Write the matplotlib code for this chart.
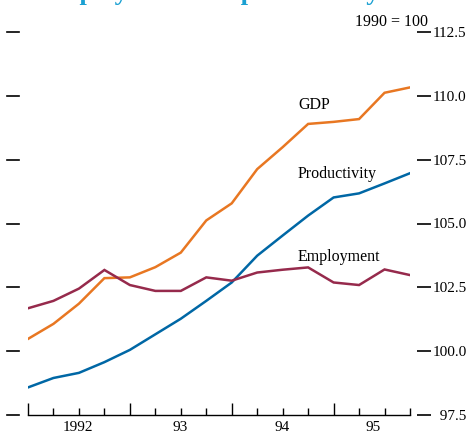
import numpy as np
import matplotlib
matplotlib.use('Agg')
import matplotlib.pyplot as plt
import matplotlib.transforms as mtransforms

# quarterly index, 1990 = 100 (1992 Q1 .. 1995 Q4)
quarters = ['1992Q1', '1992Q2', '1992Q3', '1992Q4',
            '1993Q1', '1993Q2', '1993Q3', '1993Q4',
            '1994Q1', '1994Q2', '1994Q3', '1994Q4',
            '1995Q1', '1995Q2', '1995Q3', '1995Q4']
gdp = [100.48, 101.07, 101.86, 102.86, 102.89, 103.29, 103.86, 105.12,
       105.79, 107.13, 107.99, 108.90, 108.98, 109.09, 110.12, 110.33]
productivity = [98.58, 98.95, 99.15, 99.57, 100.05, 100.66, 101.27, 101.97,
                102.69, 103.74, 104.53, 105.31, 106.02, 106.18, 106.57, 106.97]
employment = [101.68, 101.97, 102.45, 103.18, 102.59, 102.36, 102.36, 102.89,
              102.76, 103.08, 103.19, 103.28, 102.69, 102.59, 103.20, 102.98]
year_labels = ['1992', '93', '94', '95']
year_label_pos = [1.96, 5.97, 9.97, 13.55]
y_ticks = [97.5, 100.0, 102.5, 105.0, 107.5, 110.0, 112.5]

plt.rcParams['font.family'] = ['Liberation Serif', 'DejaVu Serif']

c_gdp = '#E87722'
c_prod = '#0067A5'
c_emp = '#962A4C'

fig = plt.figure(figsize=(4.68, 4.34), dpi=100)
ax = fig.add_axes([28 / 468, 1 - 415 / 434, 382 / 468, 383 / 434])

x = np.arange(len(quarters))
ax.plot(x, gdp, color=c_gdp, lw=1.8, solid_joinstyle='miter')
ax.plot(x, productivity, color=c_prod, lw=1.8, solid_joinstyle='miter')
ax.plot(x, employment, color=c_emp, lw=1.8, solid_joinstyle='miter')

ax.set_xlim(0, len(quarters) - 1)
ax.set_ylim(97.5, 112.5)

for s in ['top', 'left']:
    ax.spines[s].set_visible(False)
ax.spines['right'].set_position(('outward', 5))
ax.spines['right'].set_visible(False)
ax.spines['bottom'].set_linewidth(1.0)

# x axis: quarter ticks pointing up, longer at start of each year
ax.set_xticks([0, 4, 8, 12])
ax.set_xticks(x, minor=True)
ax.set_xticklabels([])
ax.tick_params(axis='x', which='major', direction='in', length=9, width=1.0)
ax.tick_params(axis='x', which='minor', direction='in', length=5, width=1.0)
for lab, pos in zip(year_labels, year_label_pos):
    ax.text(pos, -0.032, lab, transform=ax.get_xaxis_transform(),
            ha='center', va='center', fontsize=11)

# y axis on the right
ax.yaxis.tick_right()
ax.set_yticks(y_ticks)
ax.set_yticklabels(['  97.5' if v == 97.5 else '%.1f' % v for v in y_ticks])
ax.tick_params(axis='y', which='both', direction='out', length=10, width=1.2,
               pad=1, labelsize=11, left=False)

# short dashes on the left edge
trans = mtransforms.blended_transform_factory(ax.transAxes, ax.transData)
for v in y_ticks:
    ax.plot([-0.055, -0.024], [v, v], color='black', lw=1.2,
            transform=trans, clip_on=False)

ax.text(10.6, 109.64, 'GDP', fontsize=11.5, va='center', ha='left')
ax.text(10.6, 106.94, 'Productivity', fontsize=11.5, va='center', ha='left')
ax.text(10.6, 103.69, 'Employment', fontsize=11.5, va='center', ha='left')

fig.text(428 / 468, 1 - 22 / 434, '1990 = 100', fontsize=11.5,
         ha='right', va='center')

# title, mostly cut off at the top edge
fig.text(40 / 468, 1.0, 'Employment and productivity', fontsize=19,
         fontweight='bold', color='#1AA0D2', ha='left', va='baseline')

fig.savefig('out.png', dpi=100)
